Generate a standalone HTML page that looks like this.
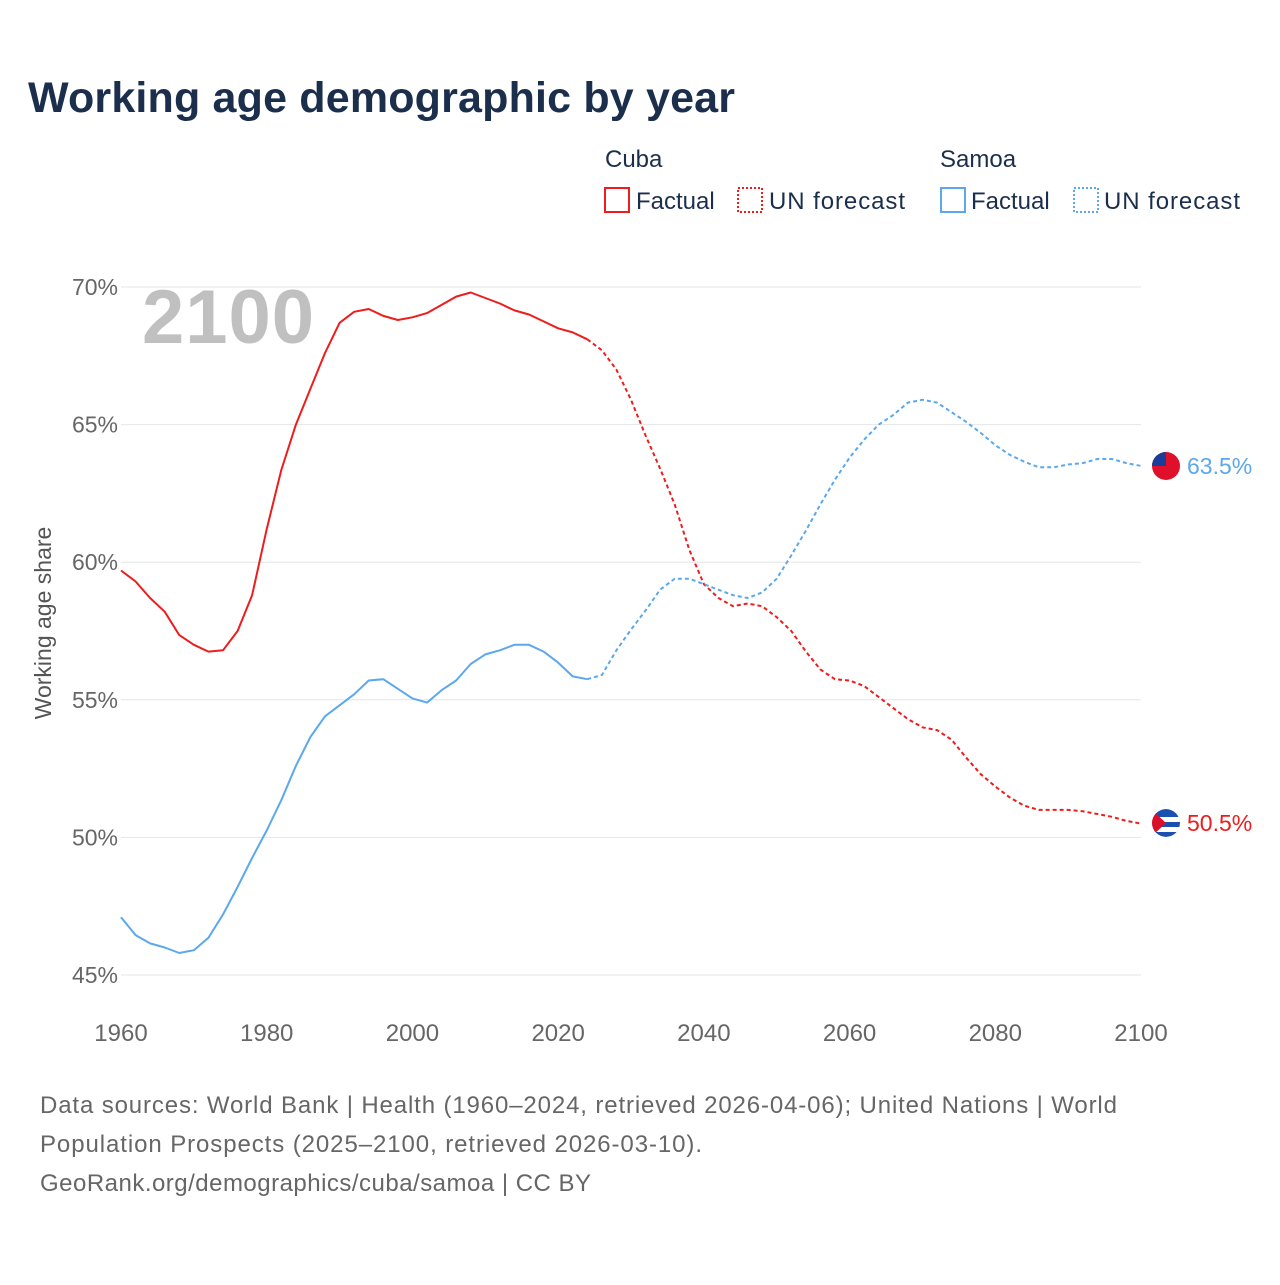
<!DOCTYPE html>
<html><head><meta charset="utf-8"><style>
body{margin:0;background:#fff;width:1280px;height:1280px;overflow:hidden;font-family:"Liberation Sans",sans-serif}
svg text{font-family:"Liberation Sans",sans-serif}
</style></head><body>
<svg id="chart" width="1280" height="1280">
<defs><clipPath id="cc"><circle cx="1166" cy="823" r="14"/></clipPath></defs>
<text x="28" y="112" font-size="43" font-weight="bold" fill="#1b2f4d" textLength="707">Working age demographic by year</text>
<g>
<text x="605" y="167" font-size="24" fill="#1b2f4d">Cuba</text>
<rect x="605" y="188" width="24" height="24" fill="none" stroke="#ee1c1c" stroke-width="2"/>
<text x="636" y="209" font-size="24" fill="#1b2f4d">Factual</text>
<rect x="738" y="188" width="24" height="24" fill="none" stroke="#ee1c1c" stroke-width="2" stroke-dasharray="2,2"/>
<text x="769" y="209" font-size="24" fill="#1b2f4d" textLength="136">UN forecast</text>
<text x="940" y="167" font-size="24" fill="#1b2f4d">Samoa</text>
<rect x="941" y="188" width="24" height="24" fill="none" stroke="#5ca8ec" stroke-width="2"/>
<text x="971" y="209" font-size="24" fill="#1b2f4d">Factual</text>
<rect x="1074" y="188" width="24" height="24" fill="none" stroke="#5ca8ec" stroke-width="2" stroke-dasharray="2,2"/>
<text x="1104" y="209" font-size="24" fill="#1b2f4d" textLength="136">UN forecast</text>
</g>
<g id="grid"></g>
<text x="142" y="343" font-size="76" font-weight="bold" fill="#c0c0c0" textLength="172">2100</text>
<text transform="translate(51,623) rotate(-90)" text-anchor="middle" font-size="23" fill="#555">Working age share</text>
<g id="series"></g>
<g>
<circle cx="1166" cy="466" r="14" fill="#e0102a"/>
<path d="M1152 466 A14 14 0 0 1 1166 452 L1166 466Z" fill="#1a3d9a"/>
<text x="1187" y="474" font-size="23" fill="#5ca8ec">63.5%</text>
<g clip-path="url(#cc)">
<circle cx="1166" cy="823" r="14" fill="#1b4fb0"/>
<rect x="1152" y="817" width="30" height="5" fill="#fff"/><rect x="1152" y="827" width="30" height="5" fill="#fff"/>
<path d="M1152 810 L1166 823 L1152 836Z" fill="#d8102a"/>
</g>
<text x="1187" y="831" font-size="23" fill="#ee1c1c">50.5%</text>
</g>
<g font-size="24" fill="#666">
<text x="40" y="1113" textLength="1077">Data sources: World Bank | Health (1960–2024, retrieved 2026-04-06); United Nations | World</text>
<text x="40" y="1152" textLength="662">Population Prospects (2025–2100, retrieved 2026-03-10).</text>
<text x="40" y="1191" textLength="551">GeoRank.org/demographics/cuba/samoa | CC BY</text>
</g>
</svg>
<script>
const years=[];for(let y=1960;y<=2100;y+=2)years.push(y);
const cuba=[59.7,59.3,58.7,58.2,57.35,57.0,56.75,56.8,57.5,58.8,61.2,63.35,65.0,66.3,67.6,68.7,69.1,69.2,68.95,68.8,68.9,69.05,69.35,69.65,69.8,69.6,69.4,69.15,69.0,68.75,68.5,68.35,68.1,67.7,67.0,65.9,64.6,63.4,62.1,60.45,59.2,58.7,58.4,58.5,58.4,58.0,57.5,56.75,56.1,55.75,55.7,55.5,55.1,54.7,54.3,54.0,53.9,53.55,52.9,52.3,51.85,51.45,51.15,51.0,51.0,51.0,50.95,50.85,50.75,50.6,50.5];
const samoa=[47.1,46.45,46.15,46.0,45.8,45.9,46.35,47.2,48.2,49.25,50.25,51.35,52.6,53.65,54.4,54.8,55.2,55.7,55.75,55.4,55.05,54.9,55.35,55.7,56.3,56.65,56.8,57.0,57.0,56.75,56.35,55.85,55.75,55.9,56.8,57.55,58.25,59.0,59.4,59.4,59.2,59.0,58.8,58.7,58.9,59.4,60.25,61.15,62.1,63.0,63.8,64.45,65.0,65.35,65.8,65.9,65.8,65.45,65.1,64.7,64.25,63.9,63.65,63.45,63.45,63.55,63.6,63.75,63.75,63.6,63.5];
const yTicks=[45,50,55,60,65,70];
const xTicks=[1960,1980,2000,2020,2040,2060,2080,2100];
const lastFactual=2024;
const X=y=>121+(y-1960)*(1020/140);
const Y=v=>975-(v-45)*(688/25);
const NS='http://www.w3.org/2000/svg';
const grid=document.getElementById('grid'),ser=document.getElementById('series');
function mk(tag,attrs,parent){const e=document.createElementNS(NS,tag);for(const k in attrs)e.setAttribute(k,attrs[k]);parent.appendChild(e);return e;}
yTicks.forEach(t=>{
 const l=mk('line',{x1:121,x2:1141,y1:Y(t),y2:Y(t),stroke:'#e6e6e6','stroke-width':1},grid);
 
 
 const tx=mk('text',{x:118,y:Y(t)+8,'text-anchor':'end','font-size':23,fill:'#666'},grid);tx.textContent=t+'%';
 
 
});
xTicks.forEach(t=>{
 const tx=mk('text',{x:X(t),y:1041,'text-anchor':'middle','font-size':24,fill:'#666'},grid);tx.textContent=t;
 
 
});
function draw(vals,color,name){
 const f=[],p=[];
 years.forEach((y,i)=>{const pt=X(y).toFixed(1)+','+Y(vals[i]).toFixed(1);if(y<=lastFactual)f.push(pt);if(y>=lastFactual)p.push(pt);});
 const a=mk('polyline',{points:f.join(' '),fill:'none',stroke:color,'stroke-width':2,'stroke-linejoin':'round'},ser);
 
 
 const b=mk('polyline',{points:p.join(' '),fill:'none',stroke:color,'stroke-width':2,'stroke-dasharray':'4,3'},ser);
 
 
}
draw(cuba,'#ee1c1c','cuba');
draw(samoa,'#5ca8ec','samoa');
</script>
</body></html>
